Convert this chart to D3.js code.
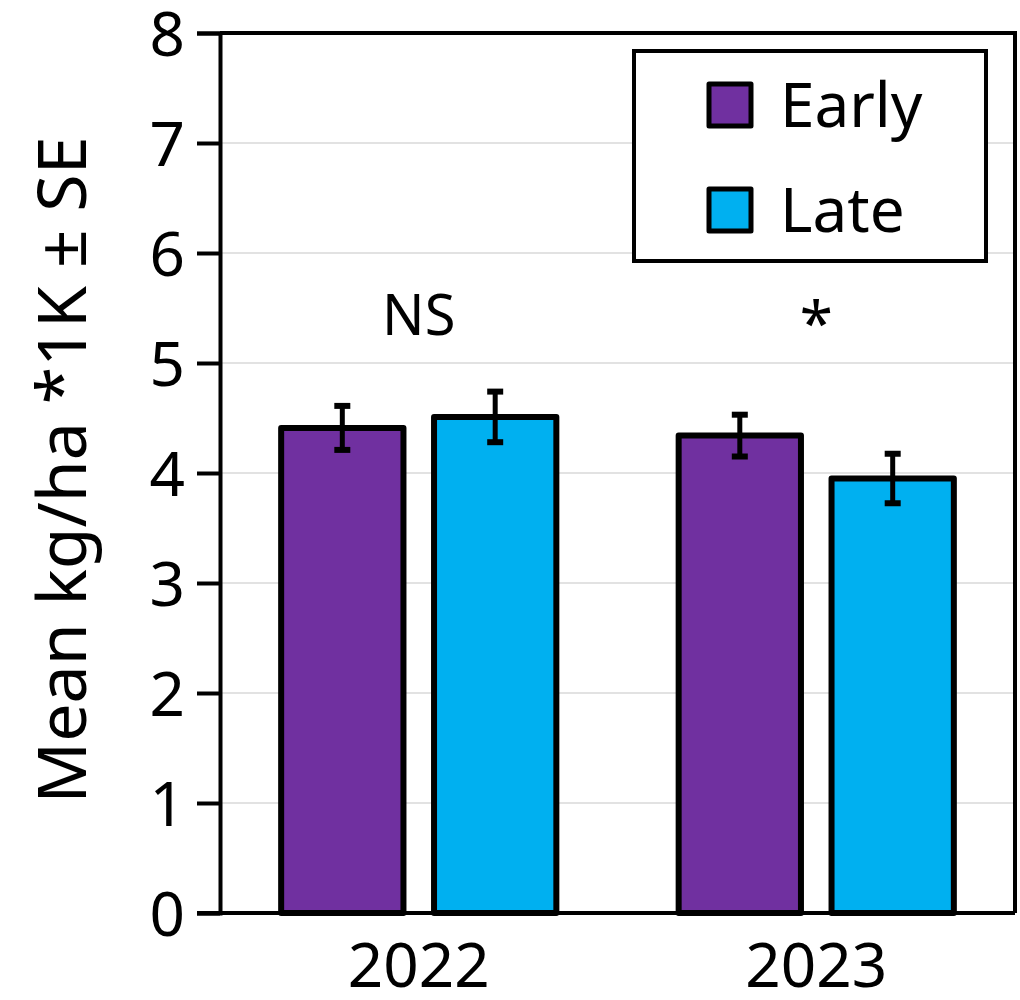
<!DOCTYPE html>
<html>
<head>
<meta charset="utf-8">
<script src="https://cdn.jsdelivr.net/npm/d3@7"></script>
<style>
  body { margin: 0; background: #fff; }
  text { font-family: "Noto Sans", "Open Sans", sans-serif; fill: #000; }
</style>
</head>
<body>
<svg id="chart"></svg>
<script>
const width = 1020;
const height = 1000;

// --- Data ---
const years = ["2022", "2023"];
const series = ["Early", "Late"];
const earlyMeans = [4.41, 4.34];
const earlySE = [0.20, 0.19];
const lateMeans = [4.51, 3.95];
const lateSE = [0.23, 0.225];
const sigLabels = ["NS", "*"];
const yTicks = [0, 1, 2, 3, 4, 5, 6, 7, 8];
const colors = ["#7030A0", "#00B0F0"];

const rows = [];
years.forEach((yr, i) => {
  rows.push({year: yr, s: "Early", mean: earlyMeans[i], se: earlySE[i]});
  rows.push({year: yr, s: "Late", mean: lateMeans[i], se: lateSE[i]});
});

const svg = d3.select("#chart")
  .attr("width", width)
  .attr("height", height);

const mLeft = 220, mRight = 1015, mTop = 33, mBottom = 913;

const y = d3.scaleLinear().domain([0, 8]).range([mBottom, mTop]);
const x0 = d3.scaleBand().domain(years).range([mLeft, mRight]).padding(0);
const x1 = d3.scaleBand().domain(series).range([0, x0.bandwidth()])
  .paddingInner(0.2).paddingOuter(0.4);
const color = d3.scaleOrdinal().domain(series).range(colors);

// gridlines
svg.append("g")
  .selectAll("line")
  .data(yTicks.slice(1, -1))
  .join("line")
  .attr("x1", mLeft).attr("x2", mRight)
  .attr("y1", d => y(d)).attr("y2", d => y(d))
  .attr("stroke", "#d9d9d9")
  .attr("stroke-width", 1.5);

// plot frame (top + right)
svg.append("path")
  .attr("d", `M${mLeft},${mTop}H${mRight}V${mBottom}`)
  .attr("fill", "none")
  .attr("stroke", "#000")
  .attr("stroke-width", 4);

// bars
svg.append("g")
  .selectAll("rect")
  .data(rows)
  .join("rect")
  .attr("x", d => x0(d.year) + x1(d.s))
  .attr("y", d => y(d.mean))
  .attr("width", x1.bandwidth())
  .attr("height", d => y(0) - y(d.mean))
  .attr("fill", d => color(d.s))
  .attr("stroke", "#000")
  .attr("stroke-width", 6)
  .attr("stroke-linejoin", "round");

// error bars
const eb = svg.append("g").attr("stroke", "#000").attr("stroke-width", 5);
rows.forEach(d => {
  const cx = x0(d.year) + x1(d.s) + x1.bandwidth() / 2;
  eb.append("line").attr("x1", cx).attr("x2", cx)
    .attr("y1", y(d.mean + d.se)).attr("y2", y(d.mean - d.se));
  [d.mean + d.se, d.mean - d.se].forEach(v => {
    eb.append("line").attr("x1", cx - 8).attr("x2", cx + 8)
      .attr("y1", y(v)).attr("y2", y(v)).attr("stroke-width", 6);
  });
});

// y axis
const yAxis = svg.append("g")
  .attr("transform", `translate(${mLeft},0)`)
  .call(d3.axisLeft(y).tickValues(yTicks).tickSize(23).tickPadding(12));
yAxis.select(".domain").attr("stroke-width", 4);
yAxis.selectAll(".tick line").attr("stroke-width", 4);
yAxis.selectAll(".tick text").attr("font-size", 62)
  .attr("font-family", "Noto Sans").attr("dy", "0.36em");

// x axis
const xAxis = svg.append("g")
  .attr("transform", `translate(0,${mBottom})`)
  .call(d3.axisBottom(x0).tickSize(0).tickPadding(30));
xAxis.select(".domain").attr("stroke-width", 4)
  .attr("d", `M${mLeft - 23},0H${mRight}`);
xAxis.selectAll(".tick text").attr("font-size", 62)
  .attr("font-family", "Noto Sans").attr("dy", "0.71em");

// y axis title
svg.append("text")
  .attr("transform", `translate(86,470) rotate(-90)`)
  .attr("text-anchor", "middle")
  .attr("font-size", 68)
  .text("Mean kg/ha *1K ± SE");

// significance labels
svg.append("g")
  .selectAll("text")
  .data(years)
  .join("text")
  .attr("x", d => x0(d) + x0.bandwidth() / 2)
  .attr("y", (d, i) => i === 0 ? 335 : 345)
  .attr("text-anchor", "middle")
  .attr("font-size", (d, i) => i === 0 ? 56 : 60)
  .text((d, i) => sigLabels[i]);

// legend
const lg = svg.append("g");
lg.append("rect")
  .attr("x", 634).attr("y", 51)
  .attr("width", 352).attr("height", 210)
  .attr("fill", "#fff")
  .attr("stroke", "#000")
  .attr("stroke-width", 4);
series.forEach((s, i) => {
  lg.append("rect")
    .attr("x", 709).attr("y", 84 + i * 105)
    .attr("width", 42).attr("height", 42)
    .attr("fill", color(s))
    .attr("stroke", "#000")
    .attr("stroke-width", 5)
    .attr("stroke-linejoin", "round");
  lg.append("text")
    .attr("x", 780).attr("y", 105 + i * 105)
    .attr("dy", "0.36em")
    .attr("font-size", 62)
    .text(s);
});
</script>
</body>
</html>
